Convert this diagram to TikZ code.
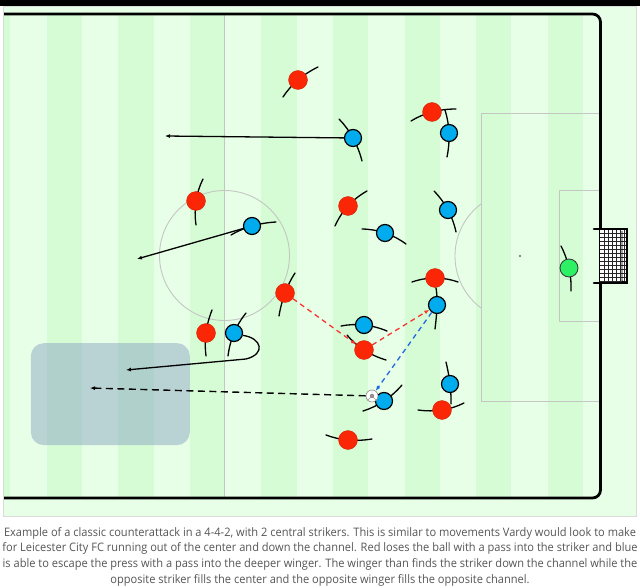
\documentclass[tikz,border=0pt]{standalone}
\usepackage{fontspec}
\newfontfamily\capfont[FakeStretch=0.945]{Open Sans}
\usetikzlibrary{arrows.meta}
\definecolor{pitchlight}{RGB}{231,255,230}
\definecolor{pitchdark}{RGB}{214,252,213}
\definecolor{cardgray}{RGB}{215,220,215}
\definecolor{markgray}{RGB}{195,198,195}
\definecolor{redteam}{RGB}{250,38,5}
\definecolor{blueteam}{RGB}{0,172,238}
\definecolor{keeper}{RGB}{45,240,100}
\definecolor{zonecol}{RGB}{140,167,194}
\definecolor{redpass}{RGB}{250,50,50}
\definecolor{bluepass}{RGB}{35,105,225}
\definecolor{captext}{RGB}{85,85,85}
\tikzset{
  marking/.style={draw=markgray,line width=0.9pt},
  netline/.style={line width=0.5pt,black!85},
  redp/.style={circle,fill=redteam,draw=redteam!80!black,line width=0.3pt,minimum size=19pt,inner sep=0pt},
  bluep/.style={circle,fill=blueteam,draw=black,line width=1.2pt,minimum size=17pt,inner sep=0pt},
  keeperp/.style={circle,fill=keeper,draw=black!80,line width=0.8pt,minimum size=18pt,inner sep=0pt},
  body/.style={line width=1.3pt,line cap=round},
  run/.style={line width=1.3pt,-{Latex[length=5pt,width=4pt]}},
  blackpass/.style={line width=1.4pt,dash pattern=on 7pt off 4.5pt,-{Latex[length=5pt,width=4pt]}},
  redpassline/.style={draw=redpass,line width=1.3pt,dash pattern=on 5pt off 4pt,-{Latex[length=5pt,width=4pt]}},
  bluepassline/.style={draw=bluepass,line width=1.3pt,dash pattern=on 5pt off 4pt,-{Latex[length=5pt,width=4pt]}},
  ballnode/.style={circle,fill=white,draw=black!45,line width=0.6pt,minimum size=12pt,inner sep=0pt},
  zone/.style={rectangle,fill=zonecol,fill opacity=0.5,rounded corners=13pt,minimum width=159pt,minimum height=102pt,inner sep=0pt},
  caption/.style={align=center,text=captext,inner sep=0pt,font=\capfont\fontsize{11.7}{15.75}\selectfont}
}
\begin{document}
\begin{tikzpicture}[x=1pt,y=-1pt]
\useasboundingbox (0,0) rectangle (640,588);
% card and pitch
\fill[black] (0,0) rectangle (640,6);
\filldraw[fill=pitchlight,draw=cardgray,line width=0.6pt] (3.5,6) rectangle (636.5,516.5);
\begin{scope}
  \clip (4,14) rectangle (600,498);
  \foreach \k in {-1,...,7}
    \fill[pitchdark] ({46.7+71.57*\k},14) rectangle +(35.3,484);
\end{scope}
\draw[marking] (224,14) -- (224,498);
\draw[marking] (224.5,255.5) circle[radius=65];
\draw[marking] (600,113.3) -- (481.7,113.3) -- (481.7,401.7) -- (600,401.7);
\draw[marking] (600,190.7) -- (559.3,190.7) -- (559.3,321) -- (600,321);
\fill[black!60] (520,256) circle[radius=1.1];
\begin{scope}
  \clip (400,100) rectangle (481.7,400);
  \draw[marking] (520,256) circle[radius=65];
\end{scope}
\draw[line width=2.8pt,rounded corners=8pt] (4,14) -- (600.5,14) -- (600.5,498) -- (4,498);
% goal
\fill[white] (600,229) rectangle (627,283);
\foreach \x in {604,608,...,624}
  \draw[netline] (\x,229) -- (\x,283);
\foreach \y in {233,237,...,281}
  \draw[netline] (600,\y) -- (627,\y);
\draw[line width=2.6pt,line cap=round] (594,229) -- (627,229) -- (627,283) -- (594,283);
\draw[line width=0.9pt] (622,231) -- (622,281) -- (627,283);

\node[zone] (space) at (110.35,394.15) {};

% red team
\draw[body] (283,97) .. controls (291.3,84.3) and (303,74.3) .. (318,67);
\node[redp] (r1) at (298,80) {};
\draw[body] (203,179) .. controls (196,193) and (193.7,208.3) .. (196,225);
\node[redp] (r2) at (196,201) {};
\draw[body] (411,121) .. controls (424,113) and (439,109) .. (456,109);
\node[redp] (r3) at (432,112) {};
\draw[body] (335,226) .. controls (341.7,211) and (352.3,199.3) .. (367,191);
\node[redp] (r4) at (348,206) {};
\draw[body] (295,273) .. controls (287,285.3) and (281.7,299.7) .. (279,316);
\node[redp] (r5) at (285,293) {};
\draw[body] (212,310) .. controls (206,325.3) and (204,340.7) .. (206,356);
\node[redp] (r6) at (206,333) {};
\draw[body] (412,282) .. controls (427.3,276.7) and (442.7,276.7) .. (458,282);
\node[redp] (r7) at (435,278) {};
\draw[body] (347,335) .. controls (356.7,346.7) and (369.7,355) .. (386,360);
\node[redp] (r8) at (364,350) {};
\draw[body] (418,410) .. controls (434.7,412.3) and (450,410) .. (464,403);
\node[redp] (r9) at (442,410) {};
\draw[body] (326,435) .. controls (340,440.3) and (355.3,441.7) .. (372,439);
\node[redp] (r10) at (348,440) {};

% blue team
\draw[body] (339,119) .. controls (350,130.3) and (357.7,144.3) .. (362,161);
\node[bluep] (b1) at (353,138) {};
\draw[body] (445,110) .. controls (449.7,125) and (450.3,140.7) .. (447,157);
\node[bluep] (b2) at (449,133) {};
\draw[body] (434,191) .. controls (445.3,202.7) and (452.7,216.3) .. (456,232);
\node[bluep] (b3) at (448,210) {};
\draw[body] (362,229) .. controls (378,229.3) and (392.7,234.3) .. (406,244);
\node[bluep] (b4) at (385,233) {};
\draw[body] (231,235) .. controls (244,227.3) and (259,223) .. (276,222);
\node[bluep] (b5) at (252,226) {};
\draw[body] (246,313) .. controls (236,325.3) and (230,339.7) .. (228,356);
\node[bluep] (b6) at (234,333) {};
\draw[body] (436,288) .. controls (437.7,297) and (437.3,310.7) .. (435,329);
\node[bluep] (b7) at (437,305) {};
\draw[body] (341,326) .. controls (356.3,323) and (371.7,324.7) .. (387,331);
\node[bluep] (b8) at (364,325) {};
\draw[body] (363,411) .. controls (378,406.3) and (391,397.7) .. (402,385);
\node[bluep] (b9) at (384,401) {};
\draw[body] (446,362) .. controls (449.7,377.3) and (451.3,391.3) .. (451,404);
\node[bluep] (b10) at (450,384) {};
\draw[body] (561,246) .. controls (568.3,260.3) and (571.7,275.3) .. (571,291);
\node[keeperp] (gk) at (569,268) {};

\node[ballnode] (ball) at (372,396) {};
\fill[black!45] (ball.center) circle[radius=2.2];
\draw[black!40,line width=0.4pt] (ball.center) -- (ball.north) (ball.center) -- (ball.south west) (ball.center) -- (ball.south east);

% runs and passes
\coordinate (runA) at (165,136);
\coordinate (runB) at (137,259);
\coordinate (runC) at (126,370);
\coordinate (passD) at (90,388);
\draw[run] (b1) -- (runA);
\draw[run] (b5) -- (runB);
\draw[run] (b6.-15) .. controls (262,338) and (266,354) .. (246,359) -- (runC);
\draw[blackpass] (ball) -- (passD);
\draw[redpassline] (r5) -- (r8);
\draw[redpassline] (r8) -- (b7);
\draw[bluepassline] (b7) -- (ball);

\node[caption,anchor=north] (caption) at (320,527) {Example of a classic counterattack in a 4-4-2, with 2 central strikers. This is similar to movements Vardy would look to make\\
for Leicester City FC running out of the center and down the channel. Red loses the ball with a pass into the striker and blue\\
is able to escape the press with a pass into the deeper winger. The winger than finds the striker down the channel while the\\
opposite striker fills the center and the opposite winger fills the opposite channel.};
\end{tikzpicture}
\end{document}
